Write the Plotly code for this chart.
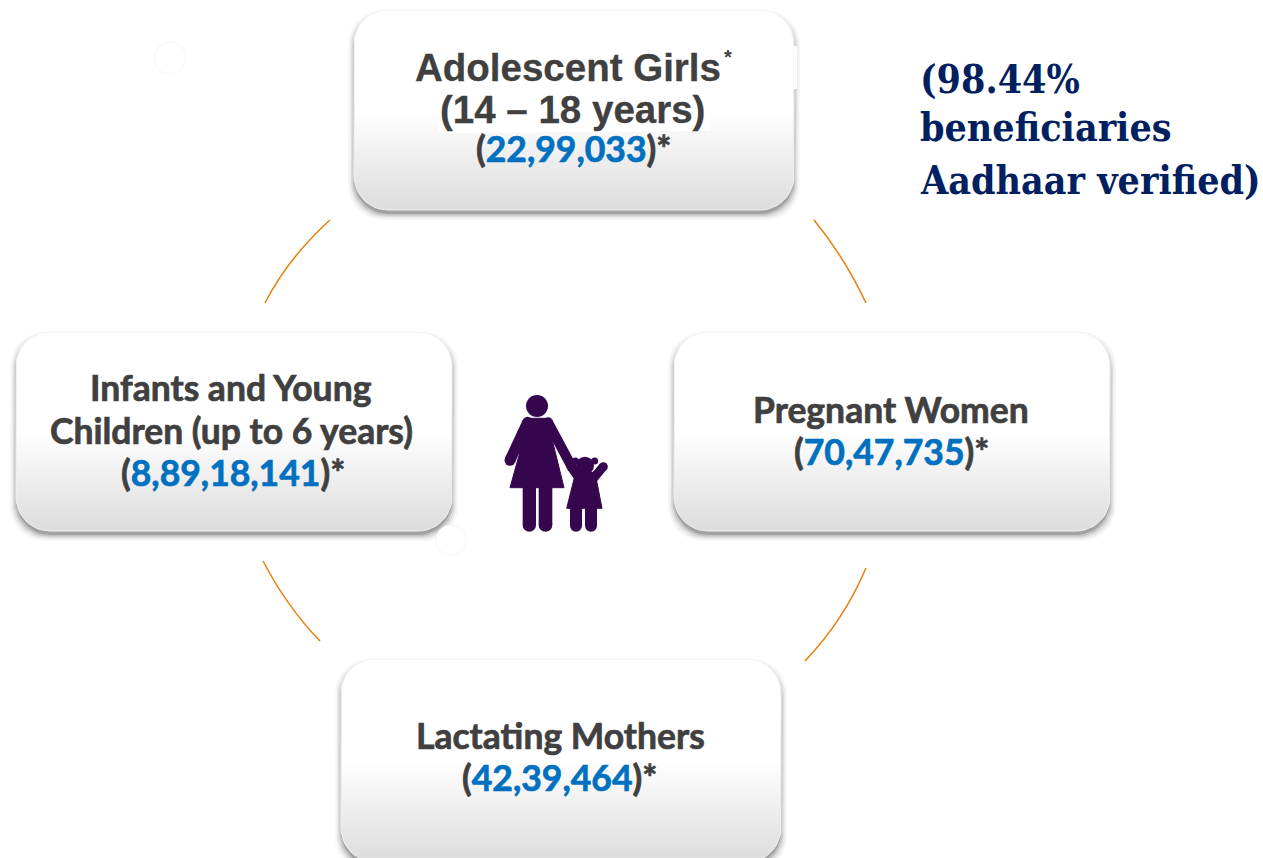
import math
import plotly.graph_objects as go

# ---------- content ----------
groups = ["Adolescent Girls", "Pregnant Women", "Lactating Mothers", "Infants and Young Children"]
counts = ["22,99,033", "70,47,735", "42,39,464", "8,89,18,141"]
note_lines = ["(98.44%", "beneficiaries", "Aadhaar verified)"]

# ---------- layout constants (canvas pixels) ----------
W, H = 1263, 858
BOXES = [(354, 10, 794, 210), (674, 332, 1110, 531), (341, 659, 781, 862), (16, 332, 452, 531)]
R = 34
DARK, BLUE, NAVY, ORANGE, PURPLE = "#404040", "#0070C0", "#002060", "#E67E0A", "#36074F"
ARCS = ["M330,220 Q288,258 265,303", "M814,220 Q845,258 866,303",
        "M866,568 Q844,620 805,661", "M263,561 Q287,607 320,641"]


def round_rect(x0, y0, x1, y1, r):
    xs, ys = [], []
    for cx, cy, a0 in [(x1 - r, y0 + r, -90), (x1 - r, y1 - r, 0), (x0 + r, y1 - r, 90), (x0 + r, y0 + r, 180)]:
        for i in range(13):
            a = math.radians(a0 + i * 7.5)
            xs.append(cx + r * math.cos(a))
            ys.append(cy + r * math.sin(a))
    return xs + xs[:1], ys + ys[:1]


fig = go.Figure()

# boxes: soft shadow, then gradient body
for (x0, y0, x1, y1) in BOXES:
    for grow, op in [(6, 0.03), (4.5, 0.05), (3, 0.08), (1.5, 0.13), (0, 0.2)]:
        xs, ys = round_rect(x0 - grow, y0 + 6 - grow, x1 + grow, y1 + 4 + grow, R)
        fig.add_trace(go.Scatter(x=xs, y=ys, mode="lines", line_width=0, fill="toself",
                                 fillcolor=f"rgba(30,30,30,{op})", hoverinfo="skip"))
    xs, ys = round_rect(x0, y0, x1, y1, R)
    fig.add_trace(go.Scatter(
        x=xs, y=ys, mode="lines", line=dict(width=1, color="#f2f2f2"), fill="toself", hoverinfo="skip",
        fillgradient=dict(type="vertical", start=y0, stop=y1,
                          colorscale=[[0, "#ffffff"], [0.5, "#ffffff"], [1, "#dcdcdc"]])))

# white patches left over around the top box text
fig.add_trace(go.Scatter(x=[438, 711, 711, 438, 438], y=[100, 100, 131, 133, 100], mode="lines", line_width=0,
                         fill="toself", fillcolor="white", hoverinfo="skip"))
fig.add_trace(go.Scatter(x=[794, 797, 797, 794, 794], y=[46, 46, 89, 89, 46], mode="lines", line_width=0,
                         fill="toself", fillcolor="white", hoverinfo="skip"))

shapes = [dict(type="path", path=p, line=dict(color=ORANGE, width=1.5)) for p in ARCS]

# faint rings
for cx, cy, r in [(170, 58, 16), (451, 540, 15)]:
    shapes.append(dict(type="circle", x0=cx - r, x1=cx + r, y0=cy - r, y1=cy + r, fillcolor="white",
                       line=dict(color="#f7f7f7", width=1)))


# icon, drawn from a zoom-space sketch of the pictogram
def ix(v): return 490 + v / 3
def iy(v): return 385 + v / 3
def poly(pts):
    return "M" + " L".join(f"{ix(a):.1f},{iy(b):.1f}" for a, b in pts) + " Z"
def add_fill(p):
    shapes.append(dict(type="path", path=p, fillcolor=PURPLE, line=dict(color=PURPLE, width=1)))
def add_circle(a, b, r):
    shapes.append(dict(type="circle", x0=ix(a) - r, x1=ix(a) + r, y0=iy(b) - r, y1=iy(b) + r,
                       fillcolor=PURPLE, line_width=0))
def add_stroke(p0, p1, w):
    shapes.append(dict(type="path", path=f"M{ix(p0[0]):.1f},{iy(p0[1]):.1f} L{ix(p1[0]):.1f},{iy(p1[1]):.1f}",
                       line=dict(color=PURPLE, width=w)))
    add_circle(p0[0], p0[1], w / 2)
    add_circle(p1[0], p1[1], w / 2)
def add_leg(a0, a1, top, bottom):
    shapes.append(dict(type="rect", x0=ix(a0), x1=ix(a1), y0=iy(top), y1=iy(bottom), fillcolor=PURPLE, line_width=0))
    add_circle((a0 + a1) / 2, bottom, (a1 - a0) / 6)

add_circle(141, 63, 11)
add_fill(poly([(104, 150), (110, 108), (122, 100), (165, 100), (178, 108), (183, 150),
               (222, 308), (60, 308)]))
add_stroke((113, 112), (60, 226), 11)
add_stroke((174, 112), (245, 245), 10)
add_leg(98, 138, 305, 420)
add_leg(146, 187, 305, 420)
add_circle(285, 242, 9)
add_circle(256, 228, 3.5)
add_circle(314, 228, 3.5)
add_fill(poly([(257, 262), (315, 262), (336, 370), (230, 370)]))
add_stroke((262, 272), (245, 248), 9)
add_stroke((312, 278), (340, 245), 9)
add_leg(240, 276, 365, 422)
add_leg(285, 321, 365, 422)

# ---------- text ----------
notes = []
def txt(x, y, s, size, family, color=DARK, anchor="center", stroke=0.0):
    if stroke:
        s = f"<span style='stroke:{color};stroke-width:{stroke}px'>{s}</span>"
    notes.append(dict(x=x, y=y, text=s, showarrow=False, xanchor=anchor, yanchor="middle",
                      font=dict(size=size, family=family, color=color, weight=700)))

def count_line(i):
    st = "stroke-width:0.7px"
    return (f"<span style='stroke:{DARK};{st}'>(</span>"
            f"<span style='color:{BLUE};stroke:{BLUE};{st}'>{counts[i]}</span>"
            f"<span style='stroke:{DARK};{st}'>)*</span>")

SANS, CAL, SERIF = "Liberation Sans", "Lato", "DejaVu Serif Condensed"
txt(568, 67, groups[0], 38.5, SANS, stroke=0.3)
txt(728, 57, "*", 20, SANS)
txt(572, 109, "(14 – 18 years)", 38.5, SANS, stroke=0.3)
txt(573, 148, count_line(0), 35.5, CAL)

txt(231, 387, "Infants and Young", 35.5, CAL, stroke=0.7)
txt(231, 430, "Children (up to 6 years)", 35.5, CAL, stroke=0.7)
txt(233, 472, count_line(3), 35.5, CAL)

txt(890.5, 409, groups[1], 35.5, CAL, stroke=0.7)
txt(891, 451, count_line(1), 35.5, CAL)

txt(560, 735, groups[2], 35.5, CAL, stroke=0.7)
txt(559, 777, count_line(2), 35.5, CAL)

for s, y in zip(note_lines, [79, 127, 180]):
    txt(918, y, s, 39, SERIF, NAVY, "left")

fig.update_layout(
    width=W, height=H, margin=dict(l=0, r=0, t=0, b=0), showlegend=False,
    paper_bgcolor="white", plot_bgcolor="white", shapes=shapes, annotations=notes,
    xaxis=dict(range=[0, W], visible=False, fixedrange=True),
    yaxis=dict(range=[H, 0], visible=False, fixedrange=True),
)
fig.write_html("out.html", config=dict(displayModeBar=False),
               post_script="document.body.style.margin='0';document.documentElement.style.overflow='hidden';")
